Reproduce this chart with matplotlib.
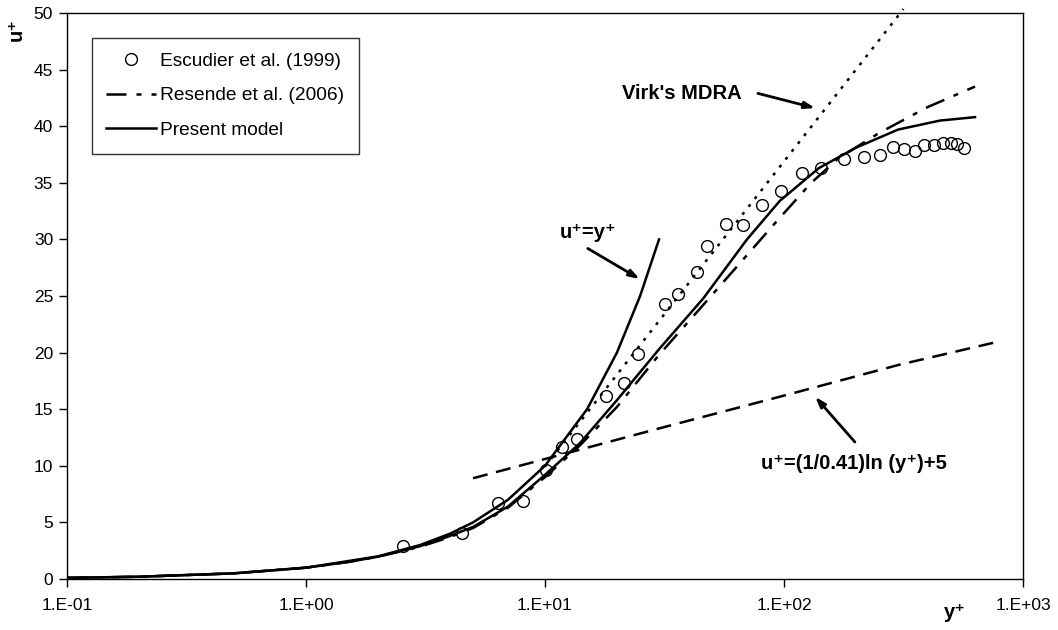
import math
import matplotlib
matplotlib.use("Agg")
import matplotlib.pyplot as plt
from matplotlib.ticker import FixedLocator, FuncFormatter

plt.rcParams['font.family'] = ['Liberation Sans', 'DejaVu Sans']

# Escudier et al. (1999) data
exp_y = [2.55, 4.5, 6.36, 8.09, 10.1, 11.8, 13.6, 18.0, 21.4, 24.5, 31.8, 36.0, 43.3, 47.6,
         57.2, 67.3, 80.9, 97.1, 119, 143, 178, 216, 252, 286, 318, 353, 385, 424, 463,
         499, 530, 566]
exp_u = [2.9, 4.06, 6.7, 6.9, 9.6, 11.7, 12.4, 16.2, 17.3, 19.9, 24.3, 25.2, 27.1, 29.4,
         31.4, 31.3, 33.0, 34.3, 35.9, 36.3, 37.1, 37.3, 37.5, 38.2, 38.0, 37.8, 38.3, 38.3,
         38.5, 38.5, 38.4, 38.1]

# Resende et al. (2006)
res_y = [0.1, 0.2, 0.5, 1, 1.5, 2, 3, 4, 5, 7, 10, 14, 20, 30, 45, 60, 95, 130, 170, 250, 400, 630]
res_u = [0.1, 0.2, 0.5, 1.0, 1.5, 1.97, 2.85, 3.7, 4.5, 6.3, 9.0, 11.8, 15.2, 19.8, 24.0, 27.0,
         31.8, 35.0, 37.2, 39.4, 41.7, 43.5]

# Present model
mod_y = [0.1, 0.2, 0.5, 1, 1.5, 2, 3, 4, 5, 7, 10, 14, 20, 30, 46, 70, 96, 140, 200, 300, 450, 630]
mod_u = [0.1, 0.2, 0.5, 1.0, 1.5, 1.97, 2.9, 3.8, 4.6, 6.4, 9.2, 12.0, 15.8, 20.3, 24.8, 30.0,
         33.4, 36.3, 38.1, 39.7, 40.5, 40.8]

# viscous sublayer u+=y+
vis_y = [0.1, 0.2, 0.5, 1, 2, 3, 4, 5, 7, 10, 15, 20, 25, 30]
vis_u = [0.1, 0.2, 0.5, 1, 2, 3, 4, 5, 7, 10, 15, 20, 25, 30]

# log law
log_y = [5, 10, 30, 100, 300, 800]
log_u = [8.9, 10.6, 13.3, 16.2, 18.9, 21.0]

# Virk's MDRA
virk_y = [10, 316]
virk_u = [9.94, 50.35]

xticks = [0.1, 1, 10, 100, 1000]

fig = plt.figure(figsize=(10.58, 6.30), dpi=100)
ax = fig.add_axes([67 / 1058, 1 - 579 / 630, (1023 - 67) / 1058, (579 - 13) / 630])

ax.plot(vis_y, vis_u, color='k', lw=1.8)
ax.plot(log_y, log_u, color='k', lw=1.8, dashes=(6, 3.5))
ax.plot(virk_y, virk_u, color='k', lw=1.8, dashes=(1.2, 2.8), clip_on=False)
ax.plot(res_y, res_u, color='k', lw=1.8, dashes=(8, 4, 2, 4), label='Resende et al. (2006)')
ax.plot(mod_y, mod_u, color='k', lw=1.8, label='Present model')
ax.plot(exp_y, exp_u, 'o', mfc='none', mec='k', ms=8.5, mew=1.0,
        label='Escudier et al. (1999)')

ax.set_xscale('log')
ax.set_xlim(0.1, 1000)
ax.set_ylim(0, 50)
ax.xaxis.set_major_locator(FixedLocator(xticks))
ax.xaxis.set_minor_locator(FixedLocator([]))
ax.xaxis.set_major_formatter(FuncFormatter(lambda v, p: '1.E%+03d' % round(math.log10(v))))
ax.set_yticks(range(0, 51, 5))
ax.tick_params(direction='out', length=6, width=1, labelsize=12.5, pad=8)
ax.tick_params(axis='y', pad=4)
for s in ax.spines.values():
    s.set_linewidth(1)

handles, labels = ax.get_legend_handles_labels()
order = [2, 0, 1]
leg = ax.legend([handles[i] for i in order], [labels[i] for i in order],
                loc='upper left', bbox_to_anchor=(25 / 956, 1 - 25 / 566),
                fontsize=13.8, frameon=True, fancybox=False, edgecolor='k',
                handlelength=2.6, handletextpad=0.2, labelspacing=0.9,
                borderpad=0.75, borderaxespad=0)
leg.get_frame().set_linewidth(1)

bold = dict(fontsize=14.5, fontweight='bold', color='k')
arrow = dict(arrowstyle='-|>,head_length=0.6,head_width=0.2', color='k', lw=2,
             shrinkA=0, shrinkB=0)

ax.text(37.4, 42.9, "Virk's MDRA", ha='center', va='center', **bold)
ax.annotate('', xy=(135, 41.6), xytext=(77.8, 42.9), arrowprops=arrow)

ax.text(15.1, 30.6, 'u\u207a=y\u207a', ha='center', va='center', **bold)
ax.annotate('', xy=(24.9, 26.5), xytext=(15.1, 29.2), arrowprops=arrow)

ax.text(196, 10.2, 'u\u207a=(1/0.41)ln (y\u207a)+5', ha='center', va='center', **bold)
ax.annotate('', xy=(135, 16.1), xytext=(198, 12.1), arrowprops=arrow)

fig.text(16 / 1058, 1 - 30 / 630, 'u\u207a', rotation=90, ha='center', va='center', **bold)
fig.text(955 / 1058, 1 - 612 / 630, 'y\u207a', ha='center', va='center', **bold)

fig.savefig('out.png', dpi=100)
